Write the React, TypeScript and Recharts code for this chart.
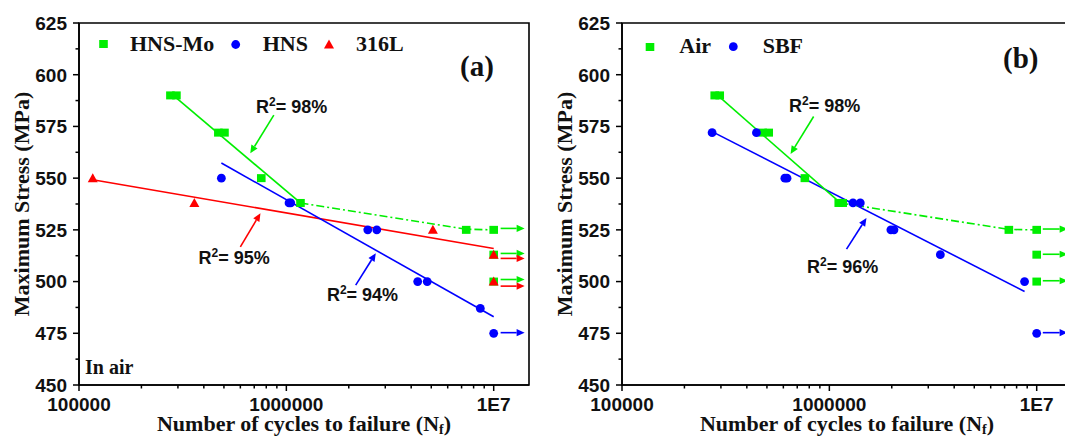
import React from 'react';
import {
  ComposedChart,
  Scatter,
  Line,
  XAxis,
  YAxis,
  ReferenceLine,
  ReferenceDot,
  ReferenceArea,
} from 'recharts';

type Pt = { x: number; y: number };

// ---------- axis ticks ----------
const xMajorTicks = [100000, 1000000, 10000000];
const xMajorLabels = ['100000', '1000000', '1E7'];
const xMinorTicks = [
  200000, 300000, 400000, 500000, 600000, 700000, 800000, 900000,
  2000000, 3000000, 4000000, 5000000, 6000000, 7000000, 8000000, 9000000,
];
const yMajorTicks = [450, 475, 500, 525, 550, 575, 600, 625];
const yMinorTicks = [462.5, 487.5, 512.5, 537.5, 562.5, 587.5, 612.5];
const xDomain = [100000, 14800000];
const yDomain = [450, 625];

// ---------- panel (a): in air ----------
const hnsMoA: Pt[] = [
  { x: 276000, y: 590 }, { x: 295000, y: 590 },
  { x: 470000, y: 572 }, { x: 503000, y: 572 },
  { x: 757000, y: 550 },
  { x: 1170000, y: 538 },
  { x: 7370000, y: 525 }, { x: 10000000, y: 525 },
  { x: 10000000, y: 513 }, { x: 10000000, y: 500 },
];
const hnsA: Pt[] = [
  { x: 486000, y: 550 },
  { x: 1030000, y: 538 }, { x: 1050000, y: 538 },
  { x: 2470000, y: 525 }, { x: 2730000, y: 525 },
  { x: 4300000, y: 500 }, { x: 4780000, y: 500 },
  { x: 8620000, y: 487 },
  { x: 10000000, y: 475 },
];
const ss316lA: Pt[] = [
  { x: 116500, y: 550 },
  { x: 360000, y: 538 },
  { x: 5090000, y: 525 },
  { x: 10000000, y: 513 },
  { x: 10000000, y: 500 },
];
const hnsMoFitA: Pt[] = [{ x: 285000, y: 590 }, { x: 1170000, y: 538 }];
const hnsMoRunoutA: Pt[] = [{ x: 1170000, y: 538 }, { x: 7370000, y: 525.3 }, { x: 10000000, y: 525 }];
const hnsFitA: Pt[] = [{ x: 486000, y: 557.3 }, { x: 10000000, y: 483 }];
const ss316lFitA: Pt[] = [{ x: 116500, y: 549.2 }, { x: 10000000, y: 516 }];
const runoutStartA = 10800000;
const runoutEndA = 14100000;
const greenRunoutsA = [525.7, 513.6, 501];
const redRunoutsA = [511.2, 497.8];
const blueRunoutsA = [475.3];
const r2LabelsA = ['98%', '95%', '94%'];
const r2TextPosA: Pt[] = [
  { x: 1060000, y: 584.4 },
  { x: 560000, y: 511.4 },
  { x: 2330000, y: 493.5 },
];
const r2ArrowsA: Pt[][] = [
  [{ x: 870000, y: 580.5 }, { x: 670000, y: 562 }],
  [{ x: 600000, y: 516.8 }, { x: 750000, y: 533 }],
  [{ x: 2160000, y: 498.3 }, { x: 2700000, y: 513.7 }],
];

// ---------- panel (b): air vs SBF ----------
const airB: Pt[] = [
  { x: 280000, y: 590 }, { x: 296000, y: 590 },
  { x: 477000, y: 572 }, { x: 510000, y: 572 },
  { x: 762000, y: 550 },
  { x: 1110000, y: 538 }, { x: 1160000, y: 538 },
  { x: 7340000, y: 525 }, { x: 10000000, y: 525 },
  { x: 10000000, y: 513 }, { x: 10000000, y: 500 },
];
const sbfB: Pt[] = [
  { x: 272000, y: 572 }, { x: 445000, y: 572 },
  { x: 610000, y: 550 }, { x: 625000, y: 550 },
  { x: 1300000, y: 538 }, { x: 1410000, y: 538 },
  { x: 1980000, y: 525 }, { x: 2050000, y: 525 },
  { x: 3430000, y: 513 },
  { x: 8740000, y: 500 },
  { x: 10000000, y: 475 },
];
const airFitB: Pt[] = [{ x: 285000, y: 590.6 }, { x: 1130000, y: 538 }];
const airRunoutB: Pt[] = [{ x: 1130000, y: 538 }, { x: 7340000, y: 525.2 }, { x: 10000000, y: 525 }];
const sbfFitB: Pt[] = [{ x: 272000, y: 572.5 }, { x: 8740000, y: 495.2 }];
const runoutStartB = 10700000;
const runoutEndB = 14100000;
const greenRunoutsB = [525.4, 513.2, 500.4];
const blueRunoutsB = [475.3];
const r2LabelsB = ['98%', '96%'];
const r2TextPosB: Pt[] = [
  { x: 950000, y: 585.1 },
  { x: 1160000, y: 507.1 },
];
const r2ArrowsB: Pt[][] = [
  [{ x: 840000, y: 579.8 }, { x: 650000, y: 561.7 }],
  [{ x: 1210000, y: 515.7 }, { x: 1510000, y: 530.7 }],
];

const legendA = ['HNS-Mo', 'HNS', '316L'];
const legendB = ['Air', 'SBF'];

// ---------- styles ----------
const GREEN = '#00ee00';
const BLUE = '#0000ff';
const RED = '#ff0000';
const SANS = "'Liberation Sans', Arial, sans-serif";
const SERIF = "'Liberation Serif', 'Times New Roman', serif";

type Kind = 'square' | 'circle' | 'triangle';

const drawMarker = (kind: Kind, color: string, cx: number, cy: number, key?: string) => {
  if (kind === 'square')
    return <rect key={key} x={cx - 4.3} y={cy - 4} width={8.6} height={8} fill={color} />;
  if (kind === 'circle') return <circle key={key} cx={cx} cy={cy} r={4.4} fill={color} />;
  return (
    <polygon
      key={key}
      points={`${cx},${cy - 5} ${cx + 5},${cy + 4} ${cx - 5},${cy + 4}`}
      fill={color}
    />
  );
};

const markerShape = (kind: Kind, color: string) => (p: any) => {
  if (p == null || p.cx == null || p.cy == null) return <g />;
  return drawMarker(kind, color, p.cx, p.cy);
};

const arrowShape = (color: string) => (p: any) => {
  const { x1, y1, x2, y2 } = p || {};
  if ([x1, y1, x2, y2].some((v) => v == null || Number.isNaN(v))) return <g />;
  const a = Math.atan2(y2 - y1, x2 - x1);
  const c = Math.cos(a);
  const s = Math.sin(a);
  const head = 8;
  const half = 3.6;
  const bx = x2 - head * c;
  const by = y2 - head * s;
  return (
    <g>
      <line x1={x1} y1={y1} x2={bx} y2={by} stroke={color} strokeWidth={1.6} />
      <polygon
        points={`${x2},${y2} ${bx - half * s},${by + half * c} ${bx + half * s},${by - half * c}`}
        fill={color}
      />
    </g>
  );
};

const r2Shape = (label: string) => (p: any) => {
  if (p == null || p.cx == null) return <g />;
  return (
    <text
      x={p.cx}
      y={p.cy}
      dy="0.36em"
      textAnchor="middle"
      fontFamily={SANS}
      fontWeight="bold"
      fontSize={18}
      fill="#111"
    >
      R
      <tspan dy="-7" fontSize="12">2</tspan>
      <tspan dy="7">{'= ' + label}</tspan>
    </text>
  );
};

const XTick = (props: any) => {
  const { x, y, payload } = props;
  const v = payload.value;
  const mi = xMajorTicks.indexOf(v);
  const major = mi >= 0;
  return (
    <g>
      <line x1={x} y1={y} x2={x} y2={y + (major ? 6 : 3.5)} stroke="#000" strokeWidth={1.5} />
      {major && (
        <text
          x={x}
          y={y + 13}
          dy="0.71em"
          textAnchor="middle"
          fontFamily={SANS}
          fontWeight="bold"
          fontSize={19}
          fill="#111"
        >
          {xMajorLabels[mi]}
        </text>
      )}
    </g>
  );
};

const YTick = (props: any) => {
  const { x, y, payload } = props;
  const v = payload.value;
  const major = yMajorTicks.indexOf(v) >= 0;
  return (
    <g>
      <line x1={x - (major ? 6 : 3.5)} y1={y} x2={x} y2={y} stroke="#000" strokeWidth={1.5} />
      {major && (
        <text
          x={x - 12}
          y={y}
          dy="0.36em"
          textAnchor="end"
          fontFamily={SANS}
          fontWeight="bold"
          fontSize={19}
          fill="#111"
        >
          {v}
        </text>
      )}
    </g>
  );
};

type ScatterCfg = { name: string; data: Pt[]; color: string; kind: Kind };
type FitCfg = { data: Pt[]; color: string; dash?: string };
type RunoutCfg = { levels: number[]; color: string };

interface PanelProps {
  left: number;
  scatters: ScatterCfg[];
  fits: FitCfg[];
  runouts: RunoutCfg[];
  runoutStart: number;
  runoutEnd: number;
  r2Labels: string[];
  r2Pos: Pt[];
  r2Arrows: Pt[][];
  r2Colors: string[];
}

const Panel = (p: PanelProps) => {
  const allTicksX = [...xMajorTicks, ...xMinorTicks].sort((a, b) => a - b);
  const allTicksY = [...yMajorTicks, ...yMinorTicks].sort((a, b) => a - b);
  return (
    <div style={{ position: 'absolute', left: p.left, top: 0 }}>
      <ComposedChart
        width={545}
        height={437}
        margin={{ top: 23, right: 16, bottom: 0, left: 0 }}
      >
        <XAxis
          dataKey="x"
          type="number"
          scale="log"
          domain={xDomain}
          allowDataOverflow
          ticks={allTicksX}
          interval={0}
          tickSize={0}
          tickMargin={0}
          tick={<XTick />}
          height={52}
          axisLine={{ stroke: '#000', strokeWidth: 1.6 }}
        />
        <YAxis
          dataKey="y"
          type="number"
          domain={yDomain}
          allowDataOverflow
          ticks={allTicksY}
          interval={0}
          tickSize={0}
          tickMargin={0}
          tick={<YTick />}
          width={79}
          axisLine={{ stroke: '#000', strokeWidth: 1.6 }}
        />
        <ReferenceArea
          x1={xDomain[0]}
          x2={xDomain[1]}
          y1={yDomain[0]}
          y2={yDomain[1]}
          fill="none"
          fillOpacity={0}
          stroke="#000"
          strokeWidth={1.6}
          ifOverflow="visible"
        />
        {p.fits.map((f, i) => (
          <Line
            key={'fit' + i}
            data={f.data}
            dataKey="y"
            type="linear"
            stroke={f.color}
            strokeWidth={1.6}
            strokeDasharray={f.dash}
            dot={false}
            activeDot={false}
            isAnimationActive={false}
          />
        ))}
        {p.runouts.map((r) =>
          r.levels.map((lv, j) => (
            <ReferenceLine
              key={r.color + j}
              segment={[
                { x: p.runoutStart, y: lv },
                { x: p.runoutEnd, y: lv },
              ]}
              ifOverflow="visible"
              shape={arrowShape(r.color)}
            />
          ))
        )}
        {p.r2Arrows.map((seg, i) => (
          <ReferenceLine
            key={'r2a' + i}
            segment={seg}
            ifOverflow="visible"
            shape={arrowShape(p.r2Colors[i])}
          />
        ))}
        {p.r2Pos.map((pt, i) => (
          <ReferenceDot
            key={'r2t' + i}
            x={pt.x}
            y={pt.y}
            r={0}
            ifOverflow="visible"
            shape={r2Shape(p.r2Labels[i])}
          />
        ))}
        {p.scatters.map((s) => (
          <Scatter
            key={s.name}
            name={s.name}
            data={s.data}
            dataKey="y"
            fill={s.color}
            shape={markerShape(s.kind, s.color)}
            isAnimationActive={false}
          />
        ))}
      </ComposedChart>
    </div>
  );
};

const Overlay = () => (
  <svg
    width={1065}
    height={437}
    style={{ position: 'absolute', left: 0, top: 0, pointerEvents: 'none' }}
  >
    {/* axis titles */}
    <text
      x={29}
      y={204}
      transform="rotate(-90, 29, 204)"
      textAnchor="middle"
      fontFamily={SERIF}
      fontWeight="bold"
      fontSize={22}
      fill="#111"
    >
      Maximum Stress (MPa)
    </text>
    <text
      x={572}
      y={204}
      transform="rotate(-90, 572, 204)"
      textAnchor="middle"
      fontFamily={SERIF}
      fontWeight="bold"
      fontSize={22}
      fill="#111"
    >
      Maximum Stress (MPa)
    </text>
    {[304, 847].map((cx) => (
      <text
        key={cx}
        x={cx}
        y={431}
        textAnchor="middle"
        fontFamily={SERIF}
        fontWeight="bold"
        fontSize={22}
        fill="#111"
      >
        Number of cycles to failure (N
        <tspan dy="3" fontSize="14">f</tspan>
        <tspan dy="-3">)</tspan>
      </text>
    ))}
    {/* legend (a) */}
    {drawMarker('square', GREEN, 103.5, 44, 'la1')}
    <text x={130} y={51} fontFamily={SERIF} fontWeight="bold" fontSize={22} fill="#111">
      {legendA[0]}
    </text>
    {drawMarker('circle', BLUE, 235.7, 44.5, 'la2')}
    <text x={262.7} y={51} fontFamily={SERIF} fontWeight="bold" fontSize={22} fill="#111">
      {legendA[1]}
    </text>
    {drawMarker('triangle', RED, 329, 44.5, 'la3')}
    <text x={356} y={51} fontFamily={SERIF} fontWeight="bold" fontSize={22} fill="#111">
      {legendA[2]}
    </text>
    <text x={460} y={76} fontFamily={SERIF} fontWeight="bold" fontSize={29} fill="#111">
      (a)
    </text>
    <text x={85} y={374} fontFamily={SERIF} fontWeight="bold" fontSize={20} fill="#111">
      In air
    </text>
    {/* legend (b) */}
    {drawMarker('square', GREEN, 650, 47, 'lb1')}
    <text x={679.3} y={53} fontFamily={SERIF} fontWeight="bold" fontSize={22} fill="#111">
      {legendB[0]}
    </text>
    {drawMarker('circle', BLUE, 733.3, 46.7, 'lb2')}
    <text x={762.7} y={53} fontFamily={SERIF} fontWeight="bold" fontSize={22} fill="#111">
      {legendB[1]}
    </text>
    <text x={1003} y={68} fontFamily={SERIF} fontWeight="bold" fontSize={29} fill="#111">
      (b)
    </text>
  </svg>
);

export default function App() {
  return (
    <div
      style={{
        position: 'absolute',
        left: 0,
        top: 0,
        width: 1065,
        height: 437,
        overflow: 'hidden',
        background: '#fff',
      }}
    >
      <Panel
        left={0}
        scatters={[
          { name: 'HNS-Mo', data: hnsMoA, color: GREEN, kind: 'square' },
          { name: 'HNS', data: hnsA, color: BLUE, kind: 'circle' },
          { name: '316L', data: ss316lA, color: RED, kind: 'triangle' },
        ]}
        fits={[
          { data: ss316lFitA, color: RED },
          { data: hnsFitA, color: BLUE },
          { data: hnsMoFitA, color: GREEN },
          { data: hnsMoRunoutA, color: GREEN, dash: '8 3 2 3' },
        ]}
        runouts={[
          { levels: greenRunoutsA, color: GREEN },
          { levels: redRunoutsA, color: RED },
          { levels: blueRunoutsA, color: BLUE },
        ]}
        runoutStart={runoutStartA}
        runoutEnd={runoutEndA}
        r2Labels={r2LabelsA}
        r2Pos={r2TextPosA}
        r2Arrows={r2ArrowsA}
        r2Colors={[GREEN, RED, BLUE]}
      />
      <Panel
        left={543}
        scatters={[
          { name: 'Air', data: airB, color: GREEN, kind: 'square' },
          { name: 'SBF', data: sbfB, color: BLUE, kind: 'circle' },
        ]}
        fits={[
          { data: sbfFitB, color: BLUE },
          { data: airFitB, color: GREEN },
          { data: airRunoutB, color: GREEN, dash: '8 3 2 3' },
        ]}
        runouts={[
          { levels: greenRunoutsB, color: GREEN },
          { levels: blueRunoutsB, color: BLUE },
        ]}
        runoutStart={runoutStartB}
        runoutEnd={runoutEndB}
        r2Labels={r2LabelsB}
        r2Pos={r2TextPosB}
        r2Arrows={r2ArrowsB}
        r2Colors={[GREEN, BLUE]}
      />
      <Overlay />
    </div>
  );
}
